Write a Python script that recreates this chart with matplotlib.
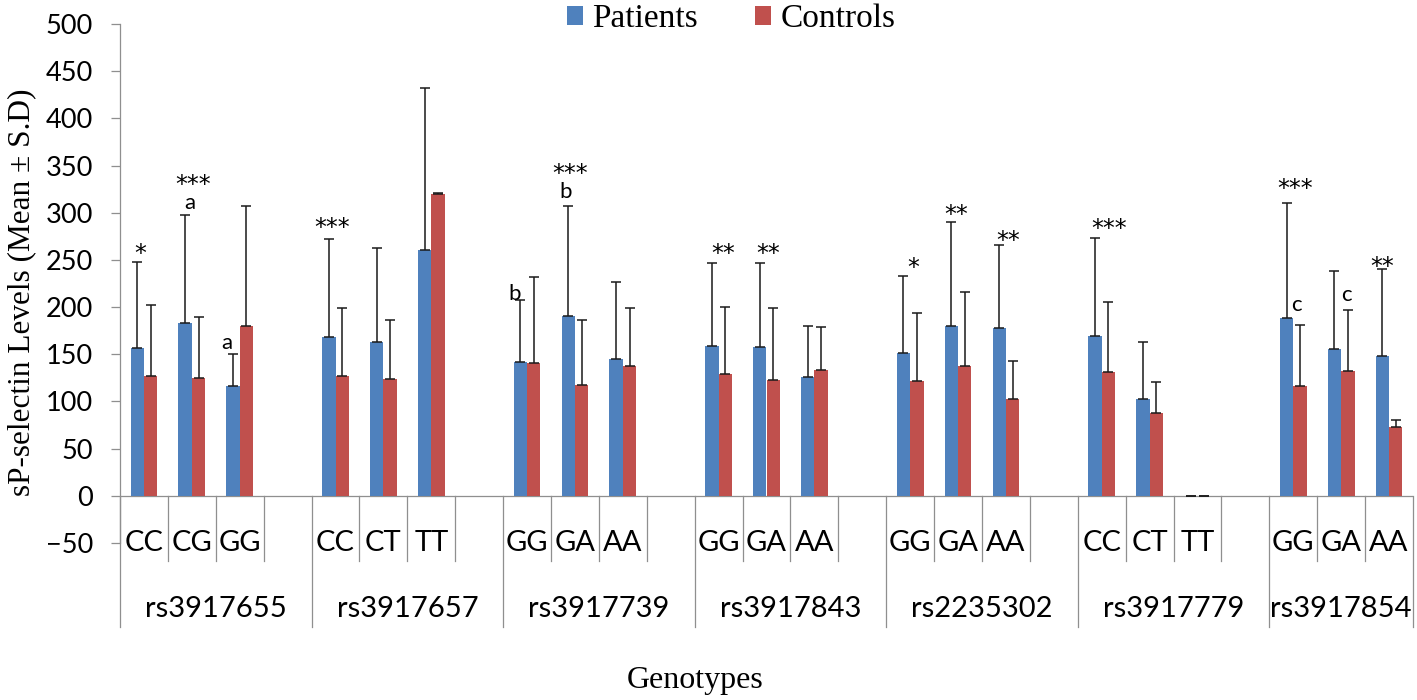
import matplotlib.pyplot as plt
import numpy as np

plt.rcParams['font.family'] = ['Lato', 'DejaVu Sans']

# SNPs and genotypes
snps = ['rs3917655', 'rs3917657', 'rs3917739', 'rs3917843', 'rs2235302', 'rs3917779', 'rs3917854']
genotypes = [['CC', 'CG', 'GG'], ['CC', 'CT', 'TT'], ['GG', 'GA', 'AA'], ['GG', 'GA', 'AA'],
             ['GG', 'GA', 'AA'], ['CC', 'CT', 'TT'], ['GG', 'GA', 'AA']]

# Mean and SD, patients
pat_mean = [[157, 183, 116.5], [168, 163.5, 260.6], [142, 191, 145], [159, 157.5, 126],
            [151, 180, 177.6], [169.5, 102.7, 0], [188.6, 156, 148]]
pat_sd = [[90.5, 114.7, 33.5], [104, 99.5, 172], [65.6, 116, 82], [87.5, 89, 54],
          [82, 110.6, 88.4], [103.5, 60, 0], [121.4, 82, 92]]

# Mean and SD, controls
con_mean = [[127.5, 124.6, 180], [127.5, 123.6, 320], [141, 117.6, 138], [129, 123, 133.5],
            [122, 137.7, 102.7], [131.7, 88, 0], [116.5, 132, 73]]
con_sd = [[74.5, 65.4, 127], [71.5, 62.4, 0.5], [91, 68.4, 61], [71, 76, 45.5],
          [72, 78.3, 40.3], [73.3, 33, 0], [64.5, 65, 7]]

# significance marks: (snp, genotype index, x shift, y, text)
marks = [(0, 0, -0.08, 248.7, '*'), (0, 1, 0.02, 322, '***'), (0, 1, -0.04, 304, 'a'),
         (0, 2, -0.27, 156, 'a'), (1, 0, -0.07, 276, '***'),
         (2, 0, -0.27, 207.5, 'b'), (2, 1, -0.11, 334, '***'), (2, 1, -0.19, 316, 'b'),
         (3, 0, 0.09, 248.7, '**'), (3, 1, 0.03, 248.7, '**'),
         (4, 0, 0.06, 234, '*'), (4, 1, -0.03, 290, '**'), (4, 2, 0.04, 262.5, '**'),
         (5, 0, 0.15, 275, '***'),
         (6, 0, 0.03, 317.6, '***'), (6, 0, 0.07, 196, 'c'), (6, 1, 0.12, 206, 'c'),
         (6, 2, -0.15, 235, '**')]

blue = '#4F81BD'
red = '#C0504D'
grey = '#8f8f8f'
serif = 'Liberation Serif'

# positions: 3 genotypes + one empty slot per SNP
pos, p_vals, p_err, c_vals, c_err, labels = [], [], [], [], [], []
for g in range(len(snps)):
    for j in range(3):
        pos.append(g * 4 + j)
        p_vals.append(pat_mean[g][j])
        p_err.append(pat_sd[g][j])
        c_vals.append(con_mean[g][j])
        c_err.append(con_sd[g][j])
        labels.append(genotypes[g][j])
pos = np.array(pos)
n_cat = pos[-1] + 1

fig = plt.figure(figsize=(14.17, 7), dpi=100)
ax = fig.add_axes([120 / 1417, 1 - 543 / 700, 1293 / 1417, 519 / 700])

w = 0.28
b1 = ax.bar(pos - w / 2, p_vals, w, color=blue, label='Patients', zorder=2)
b2 = ax.bar(pos + w / 2, c_vals, w, color=red, label='Controls', zorder=2)
ax.errorbar(pos - w / 2, p_vals, yerr=[np.zeros(len(pos)), p_err], fmt='none',
            ecolor='#1a1a1a', elinewidth=1.1, capsize=3.8, capthick=1.1, zorder=3)
ax.errorbar(pos + w / 2, c_vals, yerr=[np.zeros(len(pos)), c_err], fmt='none',
            ecolor='#1a1a1a', elinewidth=1.1, capsize=3.8, capthick=1.1, zorder=3)

for g, j, dx, y, t in marks:
    if '*' in t:
        ax.text(g * 4 + j + dx, y, t, ha='center', va='baseline', fontsize=17,
                family='DejaVu Sans', zorder=4)
    else:
        ax.text(g * 4 + j + dx, y, t, ha='center', va='baseline', fontsize=16, zorder=4)

ax.set_xlim(-0.5, n_cat - 0.5)
ax.set_ylim(-50, 500)
ax.set_yticks(np.arange(-50, 501, 50))
ax.set_xticks([])
ax.tick_params(axis='y', direction='out', length=6.5, width=0.9, color=grey,
               pad=13, labelsize=19.5)
for s in ['top', 'right', 'bottom']:
    ax.spines[s].set_visible(False)
ax.spines['left'].set_color(grey)
ax.spines['left'].set_linewidth(0.9)
ax.axhline(0, color=grey, lw=0.9, zorder=1)

# multi-level category axis
group_edges = [g * 4 - 0.5 for g in range(len(snps))] + [n_cat - 0.5]
for k in range(n_cat + 1):
    x = k - 0.5
    low = -139 if x in group_edges else -69
    ax.plot([x, x], [0, low], color=grey, lw=0.9, clip_on=False)
for p, lab in zip(pos, labels):
    ax.text(p, -59, lab, ha='center', va='baseline', fontsize=21)
for g, name in enumerate(snps):
    lo = group_edges[g]
    hi = group_edges[g + 1]
    ax.text((lo + hi) / 2, -128, name, ha='center', va='baseline', fontsize=21)

fig.text(22 / 1417, 1 - 292 / 700, 'sP-selectin Levels (Mean ± S.D)', rotation=90,
         ha='center', va='center', fontsize=22.5, family=serif)
fig.text(695 / 1417, 1 - 688 / 700, 'Genotypes', ha='center', va='baseline',
         fontsize=23, family=serif)

fig.legend(handles=[b1, b2], loc='center', bbox_to_anchor=(731 / 1417, 1 - 19 / 700),
           ncol=2, frameon=False, prop={'family': serif, 'size': 24},
           handlelength=0.48, handleheight=0.48, handletextpad=0.27,
           columnspacing=1.74, borderpad=0)

fig.savefig('out.png', dpi=100)
